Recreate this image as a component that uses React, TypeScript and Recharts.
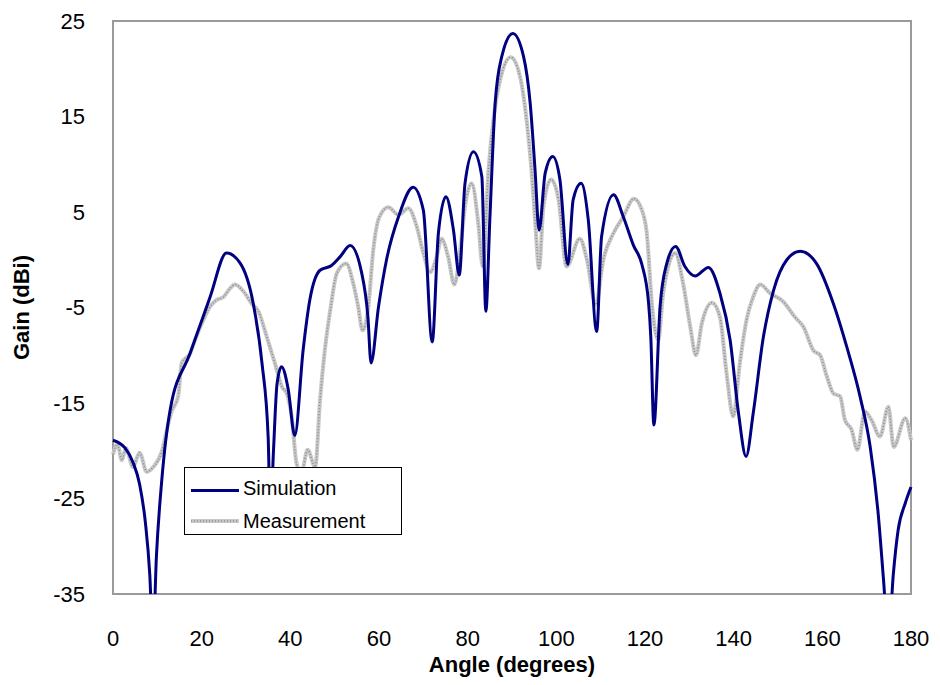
import React from 'react';
import { LineChart, Line, XAxis, YAxis, ReferenceArea, Label } from 'recharts';

// simulated pattern (angle in degrees, gain in dBi); nulls below -35 get clipped
const simAngle = [
  0, 2.7, 4.5, 6.0, 7.3, 8.3, 9.0, 9.8, 11.0, 12.9, 17.4, 21.9, 25.6, 28.6, 31.6, 33.6, 35.0, 35.5, 36.2, 37.0, 38.0,
  39.5, 41.0, 42.9, 44.4, 46.7, 49.3, 51.2, 53.5, 56.1, 57.5, 58.2, 59.9, 61.7, 64.4, 67.7, 70.0, 72.0, 73.4,
  75.1, 76.8, 78.1, 79.4, 81.3, 83.2, 84.1, 85.0, 86.2, 87.7, 90.2, 92.6, 94.1, 95.2, 96.1, 97.5, 99.2, 100.8,
  102.6, 103.8, 105.6, 107.2, 109.1, 110.2, 112.9, 115.1, 117.4, 119.3, 120.8, 121.3, 122.0, 123.4, 124.9,
  126.9, 129.0, 131.3, 134.3, 136.9, 139.2, 141.1, 142.8, 144.4, 146.7, 149.0, 152.0, 155.0, 158.7, 162.5,
  165.5, 168.5, 170.8, 172.6, 173.8, 174.9, 176.0, 177.1, 178.7, 180,
];
const simGain = [
  -18.9, -19.7, -21.2, -23.5, -27.5, -33, -40, -31, -23.1, -15.7, -9.8, -3.9, 0.7, -0.3, -4.5, -10.8, -18.6, -27, -20, -13, -11.2,
  -13.5, -18.4, -9.4, -4.2, -1.1, -0.6, 0.3, 1.5, -1.4, -6.0, -10.8, -4.9, 0.0, 4.5, 7.6, 5.2, -8.6, 2.8,
  6.6, 3.1, -1.6, 8.0, 11.3, 8.7, -5.4, 4.2, 16.4, 21.3, 23.7, 21.3, 16.4, 9.4, 3.1, 9.1, 10.8, 8.4,
  -0.5, 6.3, 8.0, 4.2, -7.5, 2.4, 6.8, 4.5, 1.5, -0.5, -4.5, -8, -17.3, -4.9, -0.4,
  1.4, -0.7, -1.7, -0.8, -3.5, -8.4, -16.1, -20.6, -16.1, -8.1, -3.2, 0.0, 0.9, -0.4, -4.6,
  -9.1, -14.3, -19.6, -26.6, -33.5, -40, -33, -28.3, -25.5, -23.8,
];

// measured pattern
const measAngle = [
  0, 1, 2, 2.9, 4.5, 6.0, 7.6, 9.1, 11.0, 12.5, 13.2, 14.7, 15.5, 17.4, 18.5, 20.0, 21.9, 23.4, 24.9, 26.4,
  27.5, 29.4, 31.3, 32.8, 34.7, 36.5, 38.1, 39.2, 40.3, 41.4, 42.5, 43.9, 45.6, 46.7, 47.8, 49.0, 50.5, 52.6,
  54.2, 55.3, 56.3, 57.6, 58.7, 60.1, 62.1, 64.4, 66.6, 68.5, 70.0, 71.5, 73.0, 74.1, 75.6, 77.0, 78.3, 79.4,
  80.9, 82.4, 83.4, 84.7, 85.8, 87.3, 89.7, 91.8, 93.3, 94.4, 95.2, 96.1, 97.1, 98.8, 100.5, 102.3, 105.3,
  106.9, 108.9, 110.6, 112.9, 115.1, 117.5, 119.3, 120.4, 121.6, 123.0, 124.1, 126.8, 128.6, 130.2, 131.5,
  132.8, 135.1, 136.9, 138.4, 139.9, 141.4, 142.9, 144.4, 146.0, 148.2, 151.2, 153.8, 155.7, 158.0, 159.5,
  161.0, 162.5, 164.0, 165.1, 166.6, 167.9, 169.6, 171.1, 173.0, 174.9, 176.1, 178.7, 180,
];
const measGain = [
  -20.4, -19.3, -21.0, -19.7, -21.7, -20.2, -22.2, -21.7, -20.1, -17.1, -15.9, -14.3, -10.8, -9.8, -8.4, -6.7, -4.9, -4.2, -3.9, -3.0,
  -2.6, -3.3, -4.6, -5.4, -8.1, -10.8, -13.3, -14.0, -16.4, -21.3, -22.3, -19.9, -21.7, -14.7, -9.4, -5.3, -1.4, -0.4,
  -2.5, -4.9, -7.4, -4.9, 1.0, 4.5, 5.5, 4.7, 5.4, 3.5, 0.7, -1.3, 0.3, 2.2, 0.3, -2.6, 1.0, 5.6,
  8.0, 3.8, -0.7, 9.4, 14.6, 18.8, 21.2, 19.2, 14.6, 9.4, 4.2, -0.9, 5.6, 8.4, 6.3, -0.7, 2.2,
  0.0, -4.7, 0.0, 2.8, 4.5, 6.4, 5.2, 2.8, -4.9, -8.4, -3.5, 0.7, -2.5, -7.0, -10.0,
  -6.7, -4.5, -6.0, -11.9, -16.4, -10.8, -6.3, -3.9, -2.6, -3.5, -4.4, -6.0, -7.0, -9.5, -10.0,
  -12.2, -14.0, -14.3, -16.8, -17.8, -19.9, -15.9, -16.8, -18.5, -15.4, -19.6, -16.6, -18.9,
];

const xTicks = [0, 20, 40, 60, 80, 100, 120, 140, 160, 180];
const yTicks = [-35, -25, -15, -5, 5, 15, 25];

const simData = simAngle.map((a, i) => ({ angle: a, gain: simGain[i] }));
const measData = measAngle.map((a, i) => ({ angle: a, gain: measGain[i] }));

const FONT = '"Liberation Sans", Arial, sans-serif';
const SIM_COLOR = '#000080';
const MEAS_BASE = '#c8c8c8';
const MEAS_DOTS = '#8c8c8c';

const App: React.FC = () => {
  return (
    <div style={{ position: 'absolute', left: 0, top: 0, width: 940, height: 685, background: '#fff', fontFamily: FONT }}>
      <LineChart width={940} height={685} margin={{ top: 21, right: 29, bottom: 0, left: 0 }}>
        <XAxis
          type="number"
          dataKey="angle"
          domain={[0, 180]}
          ticks={xTicks}
          allowDuplicatedCategory={false}
          height={91}
          axisLine={false}
          tickLine={false}
          tickMargin={30}
          tick={{ fill: '#000', fontSize: 22, fontFamily: FONT }}
        >
          <Label value="Angle (degrees)" position="insideBottom" offset={13} style={{ fill: '#000', fontSize: 22, fontWeight: 'bold', fontFamily: FONT }} />
        </XAxis>
        <YAxis
          type="number"
          domain={[-35, 25]}
          ticks={yTicks}
          allowDataOverflow
          width={113}
          axisLine={false}
          tickLine={false}
          tickMargin={22}
          tick={{ fill: '#000', fontSize: 22, fontFamily: FONT }}
        >
          <Label value="Gain (dBi)" angle={-90} position="insideLeft" offset={21} style={{ fill: '#000', fontSize: 22, fontWeight: 'bold', fontFamily: FONT, textAnchor: 'middle' }} />
        </YAxis>
        <ReferenceArea x1={0} x2={180} y1={-35} y2={25} fill="none" stroke="#9a9a9a" strokeWidth={2} />
        <Line data={measData} dataKey="gain" type="monotone" stroke={MEAS_BASE} strokeWidth={4} dot={false} isAnimationActive={false} />
        <Line data={measData} dataKey="gain" type="monotone" stroke={MEAS_DOTS} strokeWidth={1.5} strokeDasharray="1 2" dot={false} isAnimationActive={false} />
        <Line data={simData} dataKey="gain" type="monotone" stroke={SIM_COLOR} strokeWidth={3} dot={false} isAnimationActive={false} />
      </LineChart>

      {/* legend box */}
      <div
        style={{
          position: 'absolute', left: 184, top: 467, width: 218, height: 68,
          border: '1px solid #000', background: '#fff', boxSizing: 'border-box',
        }}
      >
        <div style={{ position: 'absolute', left: 6, top: 21, width: 48, height: 3, background: SIM_COLOR }} />
        <div style={{ position: 'absolute', left: 58, top: 8, fontSize: 20, lineHeight: '24px' }}>Simulation</div>
        <svg style={{ position: 'absolute', left: 6, top: 50 }} width={48} height={6}>
          <line x1={0} y1={3} x2={48} y2={3} stroke={MEAS_BASE} strokeWidth={4} />
          <line x1={0} y1={3} x2={48} y2={3} stroke={MEAS_DOTS} strokeWidth={1.5} strokeDasharray="1 2" />
        </svg>
        <div style={{ position: 'absolute', left: 58, top: 41, fontSize: 20, lineHeight: '24px' }}>Measurement</div>
      </div>
    </div>
  );
};

export default App;
